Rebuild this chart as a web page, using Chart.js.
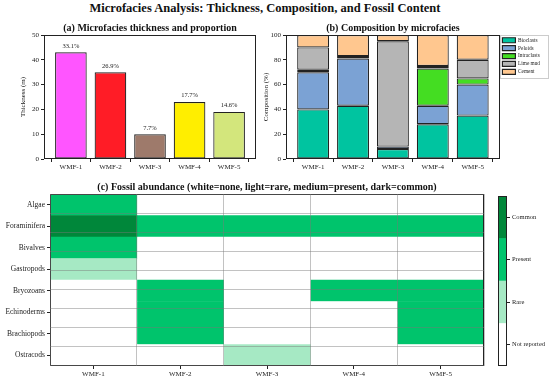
<!DOCTYPE html>
<html>
<head>
<meta charset="utf-8">
<script src="https://cdn.jsdelivr.net/npm/chart.js@4.4.1/dist/chart.umd.min.js"></script>
<style>
  body { margin: 0; background: #fff; }
  #wrap { position: relative; width: 550px; height: 381px; overflow: hidden; font-family: 'Liberation Serif', 'DejaVu Serif', serif; }
  #mainTitle { position: absolute; left: 0; top: 1px; width: 530px; text-align: center; font-size: 12.5px; font-weight: bold; color: #111; }
  canvas { position: absolute; }
</style>
</head>
<body>
<div id="wrap">
  <div id="mainTitle">Microfacies Analysis: Thickness, Composition, and Fossil Content</div>
  <canvas id="chartA" style="left:0;top:0" width="275" height="180"></canvas>
  <canvas id="chartB" style="left:258px;top:0" width="292" height="180"></canvas>
  <canvas id="chartC" style="left:0;top:176px" width="490" height="205"></canvas>
  <canvas id="chartD" style="left:490px;top:176px" width="60" height="205"></canvas>
</div>
<script>
// microfacies names, shared by all panels
const facies = ["WMF-1", "WMF-2", "WMF-3", "WMF-4", "WMF-5"];

// (a) thickness in metres and share of total section
const thickness = [43, 35, 10, 23, 19];
const proportion = ["33.1%", "26.9%", "7.7%", "17.7%", "14.6%"];
const faciesColors = ["#ff55ff", "#ff1c26", "#9e7a6b", "#ffee00", "#d3e67c"];

// (b) composition in % per component
const components = ["Bioclasts", "Peloids", "Intraclasts", "Lime mud", "Cement"];
const bioclasts   = [40, 43, 8, 28, 35];
const peloids     = [30, 38, 2, 15, 25];
const intraclasts = [2, 0, 0, 30, 5];
const limeMud     = [18, 2, 85, 2, 15];
const cement      = [10, 17, 5, 25, 20];
const componentColors = ["#00c4a0", "#7ba2d4", "#44dd22", "#b5b5b5", "#ffc78f"];

// (c) fossil abundance: 0 none, 1 rare, 2 present, 3 common
const fossils = ["Algae", "Foraminifera", "Bivalves", "Gastropods", "Bryozoans", "Echinoderms", "Brachiopods", "Ostracods"];
const abundance = [
    [2, 3, 2, 1, 0, 0, 0, 0],   // WMF-1
    [0, 2, 0, 0, 2, 2, 2, 0],   // WMF-2
    [0, 2, 0, 0, 0, 0, 0, 1],   // WMF-3
    [0, 2, 0, 0, 2, 0, 0, 0],   // WMF-4
    [0, 2, 0, 0, 2, 2, 2, 0] ]; // WMF-5
const levelNames = ["Not reported", "Rare", "Present", "Common"];
const levelColors = ["#ffffff", "#a6e9c4", "#00c46c", "#00873a"];

const serif = "'Liberation Serif', 'DejaVu Serif', serif";
Chart.defaults.font.family = serif;
Chart.defaults.color = "#222";
Chart.defaults.animation = false;

// black box round the plot area
const framePlugin = {
    id: "frame",
    afterDatasetsDraw (chart) {
        const a = chart.chartArea, ctx = chart.ctx;
        ctx.save();
        ctx.strokeStyle = "#222";
        ctx.lineWidth = 1;
        ctx.strokeRect(Math.round(a.left) + 0.5, Math.round(a.top) + 0.5,
            Math.round(a.right - a.left) - 1, Math.round(a.bottom - a.top) - 1);
        ctx.restore(); }
};

// percent labels above the thickness bars
const barLabelPlugin = {
    id: "barLabels",
    afterDatasetsDraw (chart) {
        const ctx = chart.ctx;
        const meta = chart.getDatasetMeta(0);
        ctx.save();
        ctx.font = "6.5px " + serif;
        ctx.fillStyle = "#222";
        ctx.textAlign = "center";
        ctx.textBaseline = "bottom";
        meta.data.forEach((bar, i) => { ctx.fillText(proportion[i], bar.x, bar.y - 3); });
        ctx.restore(); }
};

// grey frame round the legend of panel (b)
const legendBoxPlugin = {
    id: "legendBox",
    afterDraw (chart) {
        const l = chart.legend, ctx = chart.ctx;
        if (!l) { return; }
        const items = l.legendHitBoxes;
        const top = items[0].top - 3, bottom = items[items.length - 1].top + items[items.length - 1].height + 3;
        ctx.save();
        ctx.strokeStyle = "#ccc";
        ctx.lineWidth = 1;
        ctx.strokeRect(Math.round(l.left) + 0.5, Math.round(top) + 0.5, Math.round(l.width) - 2, Math.round(bottom - top));
        ctx.restore(); }
};

// x axis for the bar panels: linear so the side margins match the original
function indexAxis (fitHeight) {
    return {
        type: "linear", min: -0.68, max: 4.68, offset: false,
        afterBuildTicks: (s) => { s.ticks = facies.map((f, i) => ({ value: i })); },
        afterFit: (s) => { s.height = fitHeight; },
        ticks: { font: { size: 7 }, color: "#222", padding: 1, callback: (v) => facies[v] },
        grid: { drawOnChartArea: false, tickLength: 3, color: "#222" },
        border: { display: false }
    };
}

function titleOpts (text, top) {
    return { display: true, text: text, color: "#111", font: { size: 10, weight: "bold" },
        padding: { top: top, bottom: 1 }, fullSize: false };
}

/* ------------------------------------------- (a) thickness ------------------------------------------------------ */

new Chart("chartA", {
    type: "bar",
    data: { datasets: [{
        data: thickness.map((t, i) => ({ x: i, y: t })),
        backgroundColor: faciesColors, borderColor: "#222", borderWidth: 1.2, borderSkipped: false,
        barPercentage: 0.8, categoryPercentage: 1 }] },
    options: {
        responsive: false,
        layout: { padding: { left: 0, right: 19, top: 0, bottom: 0 } },
        plugins: { legend: { display: false }, tooltip: { enabled: false },
            title: titleOpts("(a) Microfacies thickness and proportion", 22) },
        scales: {
            x: indexAxis(21),
            y: { min: 0, max: 50,
                afterFit: (s) => { s.width = 44; },
                ticks: { stepSize: 10, font: { size: 7 }, color: "#222", padding: 2 },
                grid: { drawOnChartArea: false, tickLength: 3, color: "#222" },
                border: { display: false },
                title: { display: true, text: "Thickness (m)", font: { size: 7 }, color: "#222", padding: { top: 19 } } }
        }
    },
    plugins: [framePlugin, barLabelPlugin]
});

/* ------------------------------------------- (b) composition ---------------------------------------------------- */

const compositionSeries = [bioclasts, peloids, intraclasts, limeMud, cement];

new Chart("chartB", {
    type: "bar",
    data: { datasets: compositionSeries.map((series, k) => ({
        label: components[k],
        data: series.map((v, i) => ({ x: i, y: v })),
        backgroundColor: componentColors[k], borderColor: "#222", borderWidth: 1.2, borderSkipped: false,
        barPercentage: 0.8, categoryPercentage: 1 })) },
    options: {
        responsive: false,
        layout: { padding: { left: 0, right: 0, top: 0, bottom: 0 } },
        plugins: {
            tooltip: { enabled: false },
            title: titleOpts("(b) Composition by microfacies", 22),
            legend: { position: "right", align: "start", fullSize: false,
                labels: { boxWidth: 13, boxHeight: 5, padding: 2.6, font: { size: 5.3 }, color: "#222" } }
        },
        scales: {
            x: Object.assign(indexAxis(21), { stacked: true }),
            y: { stacked: true, min: 0, max: 100,
                afterFit: (s) => { s.width = 28; },
                ticks: { stepSize: 20, font: { size: 7 }, color: "#222", padding: 2 },
                grid: { drawOnChartArea: false, tickLength: 3, color: "#222" },
                border: { display: false },
                title: { display: true, text: "Composition (%)", font: { size: 7 }, color: "#222", padding: { top: 4 } } }
        }
    },
    plugins: [framePlugin, legendBoxPlugin]
});

/* ------------------------------------------- (c) fossil heatmap ------------------------------------------------- */

new Chart("chartC", {
    type: "bar",
    data: {
        labels: fossils,
        datasets: abundance.map((col, i) => ({
            label: facies[i],
            data: col.map(() => [i, i + 1]),
            backgroundColor: col.map((lv) => levelColors[lv]),
            borderWidth: 0, grouped: false, barPercentage: 1, categoryPercentage: 1 }))
    },
    options: {
        responsive: false,
        indexAxis: "y",
        layout: { padding: { left: 0, right: 6, top: 0, bottom: 0 } },
        plugins: { legend: { display: false }, tooltip: { enabled: false },
            title: titleOpts("(c) Fossil abundance (white=none, light=rare, medium=present, dark=common)", 5) },
        scales: {
            x: { type: "linear", min: 0, max: 5,
                afterBuildTicks: (s) => { s.ticks = facies.map((f, i) => ({ value: i + 0.5 })); },
                afterFit: (s) => { s.height = 15; },
                ticks: { font: { size: 7 }, color: "#222", padding: 1, callback: (v) => facies[Math.floor(v)] },
                grid: { drawOnChartArea: false, tickLength: 3, color: "#222" },
                border: { display: false } },
            xGrid: { type: "linear", position: "top", min: 0, max: 5,
                afterFit: (s) => { s.height = 0; },
                ticks: { display: false, stepSize: 1 },
                grid: { z: 1, drawTicks: false, color: "rgba(120,120,120,0.45)", lineWidth: 1 },
                border: { display: false } },
            y: { afterFit: (s) => { s.width = 50; },
                ticks: { font: { size: 7.5 }, color: "#222", padding: 2 },
                grid: { offset: false, drawOnChartArea: false, tickLength: 3, color: "#222" },
                border: { display: false } },
            yGrid: { type: "linear", position: "right", min: 0, max: 8,
                afterFit: (s) => { s.width = 0; },
                ticks: { display: false, stepSize: 1 },
                grid: { z: 1, drawTicks: false, color: "rgba(120,120,120,0.45)", lineWidth: 1 },
                border: { display: false } }
        }
    },
    plugins: [framePlugin]
});

/* ------------------------------------------- colour bar ---------------------------------------------------------- */

new Chart("chartD", {
    type: "bar",
    data: {
        labels: ["level"],
        datasets: levelNames.map((name, k) => ({
            label: name, data: [1], backgroundColor: levelColors[k],
            borderWidth: 0, barPercentage: 1, categoryPercentage: 1 }))
    },
    options: {
        responsive: false,
        layout: { padding: { left: 8, right: 0, top: 20, bottom: 15 } },
        plugins: { legend: { display: false }, tooltip: { enabled: false } },
        scales: {
            x: { stacked: true, display: false },
            y: { stacked: true, position: "right", min: 0, max: 4,
                afterBuildTicks: (s) => { s.ticks = levelNames.map((n, k) => ({ value: k + 0.5 })); },
                afterFit: (s) => { s.width = 43; },
                ticks: { font: { size: 6.5 }, color: "#222", padding: 2, callback: (v) => levelNames[Math.floor(v)] },
                grid: { drawOnChartArea: false, tickLength: 3, color: "#222" },
                border: { display: false } }
        }
    },
    plugins: [framePlugin]
});
</script>
</body>
</html>
